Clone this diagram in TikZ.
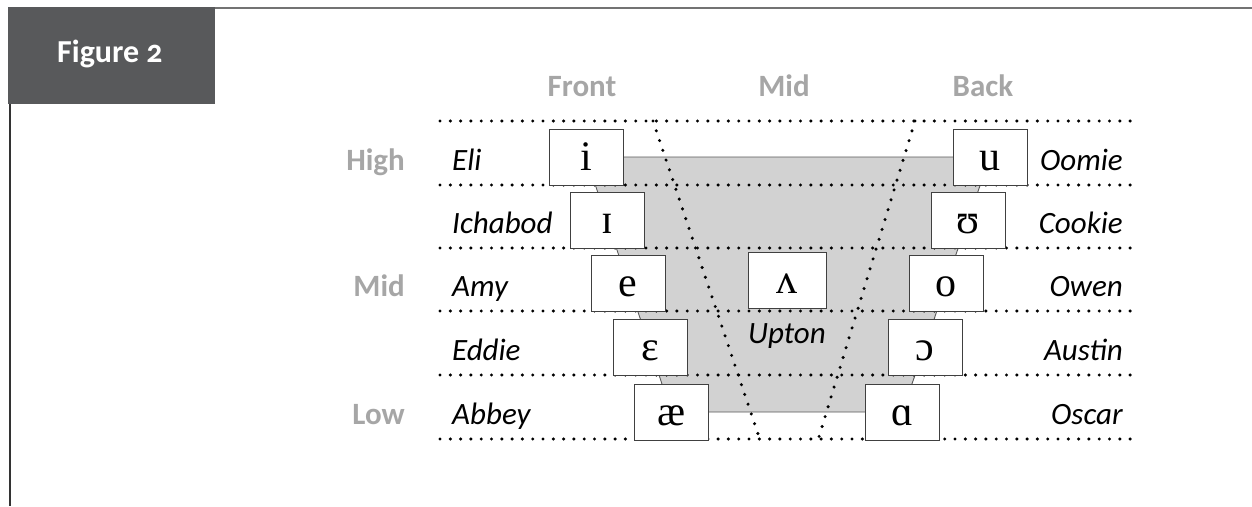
\documentclass[tikz,border=0pt]{standalone}
\usepackage{fontspec}
\setmainfont{Carlito}
\newfontfamily\ipafont{Liberation Serif}
\newfontfamily\titlefont[Numbers=OldStyle]{Carlito}
\usepackage{tikz}

\definecolor{darkbox}{HTML}{58595B}
\definecolor{headgray}{HTML}{A6A6A6}
\definecolor{hullgray}{HTML}{D2D2D2}

\begin{document}
\begin{tikzpicture}[x=1pt, y=-1pt]
    \tikzstyle{vowel}=[
        draw = black!75,
        line width = 0.9pt,
        fill = white,
        minimum width = 74pt,
        minimum height = 56pt,
        inner sep = 0pt,
        text height = 41pt,
        text depth = 15pt,
        font = \ipafont\fontsize{42}{44}\selectfont
    ]
    \tikzstyle{person}=[
        inner sep = 0pt,
        font = \itshape\fontsize{31}{36}\selectfont
    ]
    \tikzstyle{axislabel}=[
        inner sep = 0pt,
        text = headgray,
        font = \bfseries\fontsize{31}{36}\selectfont
    ]
    \tikzstyle{guide}=[
        line width = 3.4pt,
        line cap = round,
        dash pattern = on 0pt off 10.3pt
    ]
    \tikzstyle{hull}=[
        fill = hullgray,
        draw = black!65,
        line width = 0.9pt
    ]

    \useasboundingbox (0,0) rectangle (1252,506);

    % frame and title tab
    \fill[darkbox] (8,7) rectangle (215,104);
    \draw[black!55, line width=2.5pt] (215,8) -- (1252,8);
    \draw[black!80, line width=2pt] (10,104) -- (10,506);
    \node[anchor=base west, inner sep=0pt, text=white,
          font=\titlefont\bfseries\fontsize{32}{36}\selectfont] (title) at (57,62) {Figure 2};

    \coordinate (ci)  at (586, 157);
    \coordinate (cI)  at (607, 220);
    \coordinate (ce)  at (628, 283);
    \coordinate (ceh) at (650, 347);
    \coordinate (cae) at (671, 412);
    \coordinate (cu)  at (990, 157);
    \coordinate (cU)  at (968, 220);
    \coordinate (co)  at (946, 283);
    \coordinate (coh) at (925, 347);
    \coordinate (ca)  at (902, 412);

    \draw[hull] (ci) -- (cI) -- (ce) -- (ceh) -- (cae) -- (ca) -- (coh) -- (co) -- (cU) -- (cu) -- cycle;

    \foreach \y in {121, 185, 248, 311, 375, 439}
        \draw[guide] (440,\y) -- (1135,\y);
    \draw[guide] (653,121) -- (760,440);
    \draw[guide] (915,121) -- (818,440);

    \node[axislabel, anchor=base] (front) at (582, 96) {Front};
    \node[axislabel, anchor=base] (mid)   at (784, 96) {Mid};
    \node[axislabel, anchor=base] (back)  at (983, 96) {Back};

    \node[axislabel, anchor=base east] (high) at (405, 170) {High};
    \node[axislabel, anchor=base east] (midh) at (405, 296) {Mid};
    \node[axislabel, anchor=base east] (low)  at (405, 424) {Low};

    \node[person, anchor=base west] (eli)     at (452, 170) {Eli};
    \node[person, anchor=base west] (ichabod) at (452, 233) {Ichabod};
    \node[person, anchor=base west] (amy)     at (452, 296) {Amy};
    \node[person, anchor=base west] (eddie)   at (452, 360) {Eddie};
    \node[person, anchor=base west] (abbey)   at (452, 424) {Abbey};

    \node[person, anchor=base east] (oomie)   at (1123, 170) {Oomie};
    \node[person, anchor=base east] (cookie)  at (1123, 233) {Cookie};
    \node[person, anchor=base east] (owen)    at (1123, 296) {Owen};
    \node[person, anchor=base east] (austin)  at (1123, 360) {Austin};
    \node[person, anchor=base east] (oscar)   at (1123, 424) {Oscar};

    \node[vowel] (i)  at (ci)  {i};
    \node[vowel] (I)  at (cI)  {ɪ};
    \node[vowel] (e)  at (ce)  {e};
    \node[vowel] (eh) at (ceh) {ɛ};
    \node[vowel] (ae) at (cae) {æ};
    \node[vowel] (u)  at (cu)  {u};
    \node[vowel] (U)  at (cU)  {ʊ};
    \node[vowel] (o)  at (co)  {o};
    \node[vowel] (oh) at (coh) {ɔ};
    \node[vowel] (a)  at (ca)  {ɑ};
    \node[vowel, minimum width=78pt] (uh) at (787, 280) {ʌ};
    \node[person, anchor=base] (upton) at (787, 343) {Upton};

\end{tikzpicture}
\end{document}
